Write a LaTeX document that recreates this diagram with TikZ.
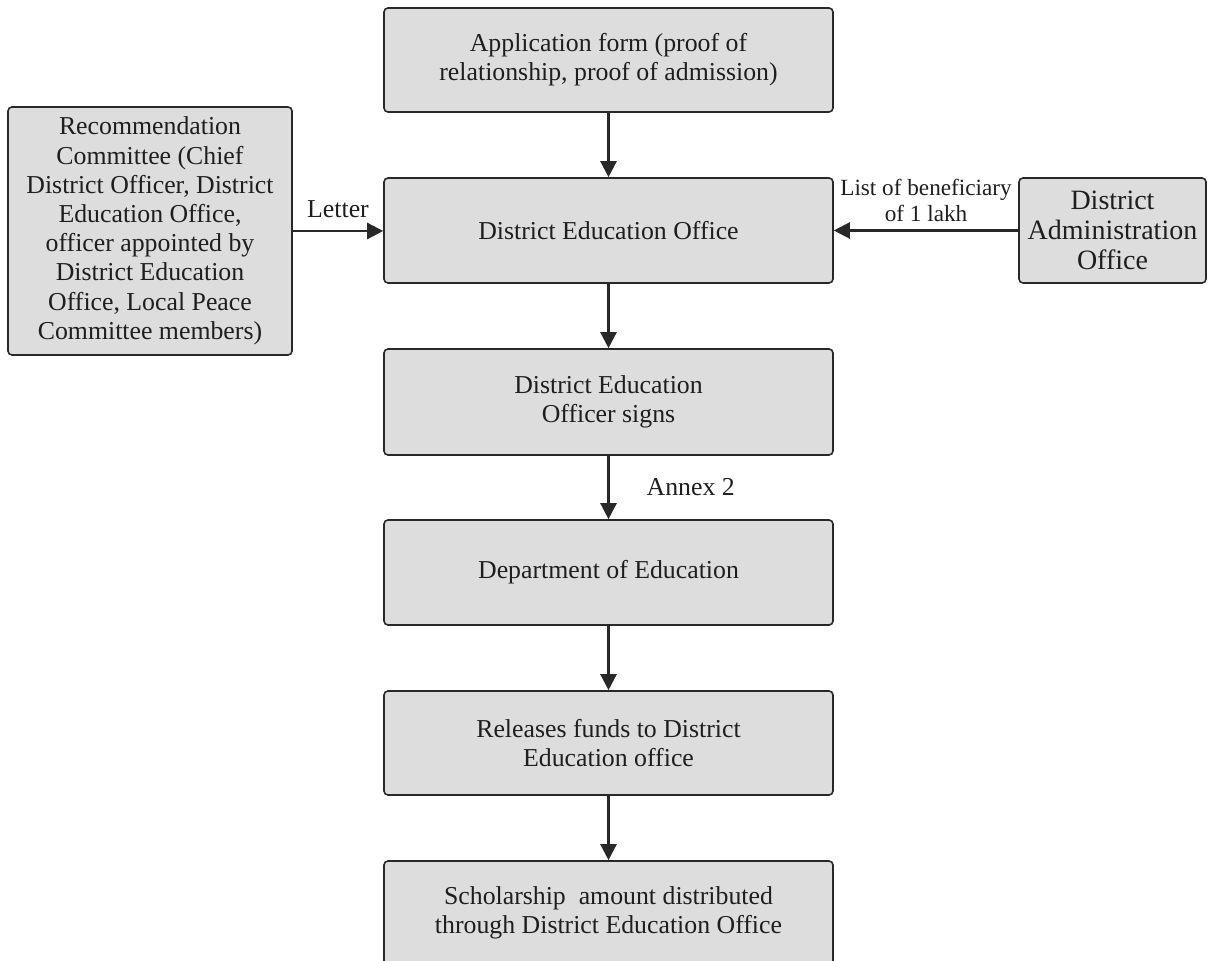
\documentclass[tikz,border=0pt]{standalone}
\usepackage{fontspec}
\setmainfont{Liberation Serif}
\usetikzlibrary{arrows.meta}
\definecolor{boxgray}{RGB}{221,221,221}
\definecolor{txt}{RGB}{30,30,30}
\definecolor{edge}{RGB}{40,40,40}
\tikzset{
  box/.style={draw=edge, line width=0.8pt, fill=boxgray, rounded corners=2pt,
    align=center, inner sep=0pt, text=txt,
    font=\fontsize{12.9}{14.6}\selectfont},
  arr/.style={line width=1.2pt, draw=edge, -{Triangle[length=8pt,width=8pt]}},
  lbl/.style={inner sep=0pt, text=txt, align=center, font=\fontsize{12.9}{14.6}\selectfont},
}
\begin{document}
\begin{tikzpicture}[x=0.5pt,y=-0.5pt]
\useasboundingbox (0,0) rectangle (1208,961);
\fill[white] (0,0) rectangle (1208,961);

\node[box, minimum width=224.5pt, minimum height=52pt] (app) at (608.5,60)
  {Application form (proof of\\relationship, proof of admission)};
\node[box, minimum width=224.5pt, minimum height=52.5pt] (deo) at (608.5,230.5)
  {District Education Office};
\node[box, minimum width=224.5pt, minimum height=53pt] (sign) at (608.5,402)
  {District Education\\Officer signs};
\node[box, minimum width=224.5pt, minimum height=52.5pt] (dept) at (608.5,572.5)
  {Department of Education};
\node[box, minimum width=224.5pt, minimum height=52pt] (rel) at (608.5,743)
  {Releases funds to District\\Education office};
\node[box, minimum width=224.5pt, minimum height=52pt] (sch) at (608.5,913)
  {Scholarship~ amount distributed\\through District Education Office};
\node[box, minimum width=142pt, minimum height=124pt] (rec) at (150,231)
  {Recommendation\\Committee (Chief\\District Officer, District\\Education Office,\\officer appointed by\\District Education\\Office, Local Peace\\Committee members)};
\node[box, minimum width=93.5pt, minimum height=52.5pt,
  font=\fontsize{14}{15}\selectfont] (dao) at (1112.5,230.5)
  {District\\Administration\\Office};

\draw[arr] (app) -- (deo);
\draw[arr] (deo) -- (sign);
\draw[arr] (sign) -- node[lbl, right=18.5pt] (annex) {Annex 2} (dept);
\draw[arr] (dept) -- (rel);
\draw[arr] (rel) -- (sch);
\draw[arr] (rec.east) -- node[lbl, above=6pt] (letter) {Letter} (rec.east -| deo.west);
\draw[arr] (dao.west) -- node[lbl, above=4pt, font=\fontsize{11.6}{13}\selectfont] (list)
  {List of beneficiary\\of 1 lakh} (dao.west -| deo.east);
\end{tikzpicture}
\end{document}
